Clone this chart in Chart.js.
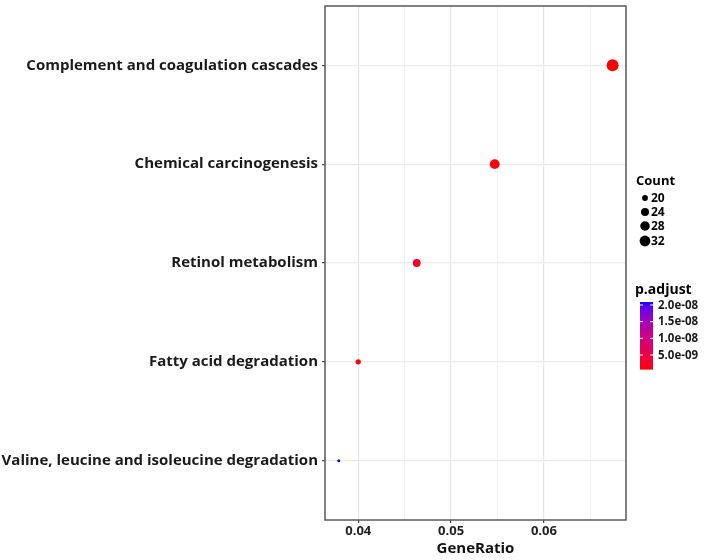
<!DOCTYPE html>
<html>
<head>
<meta charset="utf-8">
<script src="https://cdn.jsdelivr.net/npm/chart.js@4/dist/chart.umd.min.js"></script>
<style>
  html, body { margin: 0; padding: 0; background: #ffffff; }
  canvas { display: block; }
</style>
</head>
<body>
<canvas id="c" width="708" height="560"></canvas>
<script>
// ---- data ----
const categories = [
  'Complement and coagulation cascades',
  'Chemical carcinogenesis',
  'Retinol metabolism',
  'Fatty acid degradation',
  'Valine, leucine and isoleucine degradation'
];
const geneRatio = [0.0674, 0.0547, 0.0463, 0.0400, 0.0379];
const counts = [32, 26, 22, 19, 18];
const pAdjust = [8.0e-10, 1.1e-9, 2.8e-9, 1.3e-9, 2.09e-8];

const xTicks = [0.04, 0.05, 0.06];
const xTickLabels = ['0.04', '0.05', '0.06'];
const xMinorTicks = [0.045, 0.055, 0.065];

const countBreaks = [20, 24, 28, 32];
const countBreakLabels = ['20', '24', '28', '32'];
const pBreaks = [2.0e-8, 1.5e-8, 1.0e-8, 5.0e-9];
const pBreakLabels = ['2.0e-08', '1.5e-08', '1.0e-08', '5.0e-09'];

const xTitle = 'GeneRatio';
const countTitle = 'Count';
const pTitle = 'p.adjust';

// ---- colour scale (red -> blue, Lab interpolation like ggplot) ----
function s2l(c) { c /= 255; return c <= 0.04045 ? c / 12.92 : Math.pow((c + 0.055) / 1.055, 2.4); }
function l2s(c) { const v = c <= 0.0031308 ? 12.92 * c : 1.055 * Math.pow(c, 1 / 2.4) - 0.055; return Math.max(0, Math.min(255, Math.round(v * 255))); }
const Xn = 0.95047, Yn = 1.0, Zn = 1.08883;
function f(t) { return t > 0.008856 ? Math.cbrt(t) : 7.787 * t + 16 / 116; }
function fi(t) { return t > 0.206893 ? t * t * t : (t - 16 / 116) / 7.787; }
function rgb2lab(rgb) {
  const r = s2l(rgb[0]), g = s2l(rgb[1]), b = s2l(rgb[2]);
  const X = r * 0.4124 + g * 0.3576 + b * 0.1805;
  const Y = r * 0.2126 + g * 0.7152 + b * 0.0722;
  const Z = r * 0.0193 + g * 0.1192 + b * 0.9505;
  const fx = f(X / Xn), fy = f(Y / Yn), fz = f(Z / Zn);
  return [116 * fy - 16, 500 * (fx - fy), 200 * (fy - fz)];
}
function lab2rgb(lab) {
  const fy = (lab[0] + 16) / 116, fx = fy + lab[1] / 500, fz = fy - lab[2] / 200;
  const X = Xn * fi(fx), Y = Yn * fi(fy), Z = Zn * fi(fz);
  const r = X * 3.2406 + Y * -1.5372 + Z * -0.4986;
  const g = X * -0.9689 + Y * 1.8758 + Z * 0.0415;
  const b = X * 0.0557 + Y * -0.2040 + Z * 1.0570;
  return [l2s(r), l2s(g), l2s(b)];
}
const labLow = rgb2lab([255, 0, 0]);
const labHigh = rgb2lab([0, 0, 255]);
const pMin = Math.min(...pAdjust), pMax = Math.max(...pAdjust);
function colorFor(p) {
  const t = Math.max(0, Math.min(1, (p - pMin) / (pMax - pMin)));
  const lab = [0, 1, 2].map(i => labLow[i] + (labHigh[i] - labLow[i]) * t);
  const c = lab2rgb(lab);
  return 'rgb(' + c[0] + ',' + c[1] + ',' + c[2] + ')';
}

// ---- size scale (area) ----
const cMin = Math.min(...counts), cMax = Math.max(...counts);
function radiusFor(c) {
  const t = Math.max(0, (c - cMin) / (cMax - cMin));
  return 1.5 + 4.5 * Math.sqrt(t);
}

const FONT = "'Open Sans', 'DejaVu Sans', sans-serif";

// ---- legend + panel border plugin ----
const extrasPlugin = {
  id: 'extras',
  afterDraw(chart) {
    const ctx = chart.ctx;
    const a = chart.chartArea;
    ctx.save();
    // panel border
    ctx.strokeStyle = '#5a5a5a';
    ctx.lineWidth = 1.5;
    ctx.strokeRect(a.left, a.top, a.right - a.left, a.bottom - a.top);

    // Count legend
    const lx = a.right + 10;
    ctx.fillStyle = '#000';
    ctx.textBaseline = 'middle';
    ctx.textAlign = 'left';
    ctx.font = 'bold 13px ' + FONT;
    ctx.fillText(countTitle, lx, 181);
    const rowY = [198, 212, 226, 241];
    countBreaks.forEach((c, i) => {
      ctx.beginPath();
      ctx.arc(lx + 9, rowY[i], radiusFor(c) * 0.9, 0, Math.PI * 2);
      ctx.fillStyle = '#000';
      ctx.fill();
      ctx.font = 'bold 12px ' + FONT;
      ctx.fillText(countBreakLabels[i], lx + 15, rowY[i] + 0.5);
    });

    // p.adjust colorbar
    ctx.font = 'bold 14px ' + FONT;
    ctx.fillStyle = '#000';
    ctx.fillText(pTitle, lx - 1, 290);
    const bx = lx + 4, bw = 13, bTop = 302, bBot = 369;
    const steps = 67;
    for (let i = 0; i < steps; i++) {
      const y0 = bBot - (bBot - bTop) * i / steps;
      const y1 = bBot - (bBot - bTop) * (i + 1) / steps;
      const p = pMin + (pMax - pMin) * (i + 0.5) / steps;
      ctx.fillStyle = colorFor(p);
      ctx.fillRect(bx, y1, bw, y0 - y1 + 0.6);
    }
    ctx.font = 'bold 11.5px ' + FONT;
    pBreaks.forEach((p, i) => {
      const y = bBot - (p - pMin) / (pMax - pMin) * (bBot - bTop);
      ctx.strokeStyle = '#ffffff';
      ctx.lineWidth = 1;
      ctx.beginPath();
      ctx.moveTo(bx, y); ctx.lineTo(bx + 3, y);
      ctx.moveTo(bx + bw - 3, y); ctx.lineTo(bx + bw, y);
      ctx.stroke();
      ctx.fillStyle = '#1a1a1a';
      ctx.fillText(pBreakLabels[i], bx + bw + 5, y + 0.5);
    });
    ctx.restore();
  }
};

const points = categories.map((cat, i) => ({ x: geneRatio[i], y: i }));

new Chart(document.getElementById('c'), {
  type: 'scatter',
  data: {
    datasets: [{
      data: points,
      pointRadius: counts.map(radiusFor),
      pointHoverRadius: counts.map(radiusFor),
      backgroundColor: pAdjust.map(colorFor),
      borderWidth: 0
    }]
  },
  options: {
    responsive: false,
    animation: false,
    events: [],
    layout: { padding: { top: 4, right: 82, bottom: 0, left: 0 } },
    plugins: { legend: { display: false }, tooltip: { enabled: false } },
    scales: {
      x: {
        type: 'linear',
        min: 0.03642,
        max: 0.06884,
        afterBuildTicks(scale) {
          scale.ticks = xTicks.concat(xMinorTicks).sort((a, b) => a - b).map(v => ({ value: v }));
        },
        afterFit(scale) { scale.height = 40; scale.paddingLeft = 0; scale.paddingRight = 0; },
        border: { display: false },
        grid: {
          drawOnChartArea: true,
          color: ctx => xTicks.some(v => Math.abs(v - ctx.tick.value) < 1e-9) ? '#e6e6e6' : '#efefef',
          lineWidth: ctx => xTicks.some(v => Math.abs(v - ctx.tick.value) < 1e-9) ? 1.2 : 0.8,
          tickColor: ctx => xTicks.some(v => Math.abs(v - ctx.tick.value) < 1e-9) ? '#444' : 'rgba(0,0,0,0)',
          tickLength: 3
        },
        ticks: {
          autoSkip: false,
          maxRotation: 0,
          padding: 0,
          color: '#222',
          font: { family: FONT, size: 13, weight: 'bold' },
          callback(value) {
            const i = xTicks.findIndex(v => Math.abs(v - value) < 1e-9);
            return i >= 0 ? xTickLabels[i] : '';
          }
        },
        title: {
          display: true,
          text: xTitle,
          color: '#111',
          font: { family: FONT, size: 15, weight: 'bold' },
          padding: { top: 0, bottom: 2 }
        }
      },
      y: {
        type: 'linear',
        reverse: true,
        min: -0.6,
        max: categories.length - 1 + 0.6,
        afterBuildTicks(scale) {
          scale.ticks = categories.map((c, i) => ({ value: i }));
        },
        afterFit(scale) { scale.width = 325; scale.paddingTop = 0; scale.paddingBottom = 0; },
        border: { display: false },
        grid: {
          color: '#ebebeb',
          lineWidth: 1.2,
          tickColor: '#444',
          tickLength: 3
        },
        ticks: {
          autoSkip: false,
          padding: 4,
          color: '#1a1a1a',
          font: { family: FONT, size: 15, weight: 'bold' },
          callback(value) { return categories[Math.round(value)] ?? ''; }
        }
      }
    }
  },
  plugins: [extrasPlugin]
});
</script>
</body>
</html>
